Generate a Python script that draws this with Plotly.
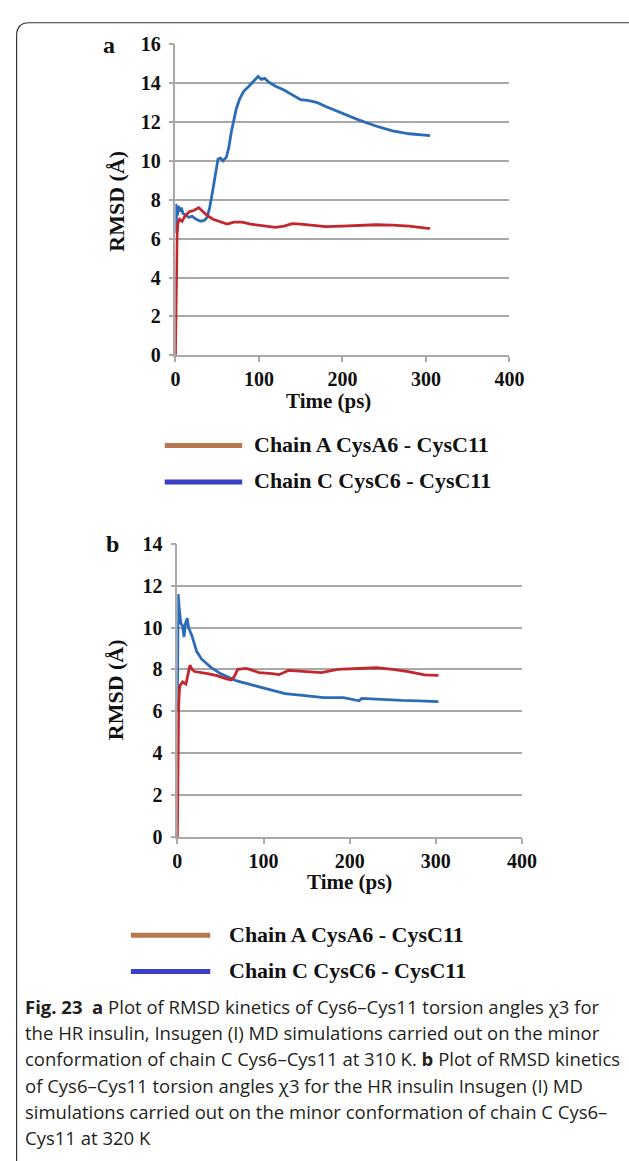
import plotly.graph_objects as go

W, H = 629, 1161

# ---------------- data ----------------
# Panel a (310 K)
a_red_t = [0, 0.5, 1, 1.5, 2, 3, 5, 8, 12, 17, 22, 28, 33, 38, 45, 55, 62, 70, 80, 90, 100, 110,
           120, 130, 140, 150, 160, 180, 200, 220, 240, 260, 280, 300, 305]
a_red_v = [0, 2.5, 4.0, 5.4, 6.2, 6.8, 7.0, 6.9, 7.2, 7.4, 7.45, 7.6, 7.4, 7.2, 7.0, 6.85, 6.75, 6.85,
           6.85, 6.75, 6.7, 6.62, 6.58, 6.65, 6.78, 6.75, 6.7, 6.62, 6.65, 6.7, 6.72, 6.7, 6.65, 6.55, 6.53]

a_blue_t = [0, 0.5, 1, 1.5, 2.5, 3.5, 5, 7, 9, 12, 16, 20, 25, 30, 35, 38, 41, 44, 47, 49, 51, 54, 57,
            61, 64, 67, 70, 73, 77, 82, 88, 94, 99, 103, 107, 112, 120, 130, 140, 150, 160, 170, 180,
            200, 220, 240, 260, 280, 295, 305]
a_blue_v = [6.5, 7.8, 6.3, 7.7, 7.2, 7.7, 7.4, 7.6, 7.3, 7.2, 7.1, 7.15, 7.0, 6.9, 6.95, 7.1, 7.6, 8.3,
            9.0, 9.6, 10.1, 10.15, 10.0, 10.2, 10.7, 11.5, 12.1, 12.7, 13.2, 13.6, 13.85, 14.1, 14.35,
            14.2, 14.25, 14.05, 13.85, 13.65, 13.4, 13.15, 13.1, 13.0, 12.8, 12.45, 12.1, 11.8, 11.55,
            11.4, 11.35, 11.3]

# Panel b (320 K)
b_red_t = [0, 0.5, 1, 1.5, 2.7, 6, 10, 12, 14.6, 17, 20, 35, 46, 57, 63, 66, 70, 80, 95, 110, 118,
           129, 148, 167, 186, 212, 231, 250, 268, 287, 303]
b_red_v = [0, 3.0, 5.5, 6.3, 7.2, 7.4, 7.3, 7.7, 8.2, 8.0, 7.9, 7.8, 7.7, 7.55, 7.5, 7.65, 8.0, 8.05,
           7.85, 7.8, 7.75, 7.95, 7.9, 7.85, 8.0, 8.05, 8.08, 8.0, 7.9, 7.74, 7.72]

b_blue_t = [0, 0.5, 1, 2, 4, 6, 7.7, 9.5, 11.5, 13, 17, 22.5, 28, 39, 50, 69, 88, 110, 125, 148, 170,
            193, 211, 214, 238, 260, 280, 303]
b_blue_v = [6.0, 10.5, 11.6, 11.0, 10.2, 10.1, 9.55, 10.2, 10.45, 10.0, 9.6, 8.85, 8.5, 8.1, 7.8, 7.45,
            7.25, 7.0, 6.85, 6.75, 6.65, 6.65, 6.5, 6.62, 6.55, 6.52, 6.5, 6.46]

x_ticks = [0, 100, 200, 300, 400]
a_y_ticks = [0, 2, 4, 6, 8, 10, 12, 14, 16]
b_y_ticks = [0, 2, 4, 6, 8, 10, 12, 14]

series_names = ["Chain A CysA6 - CysC11", "Chain C CysC6 - CysC11"]
caption_lines = [
    "<b>Fig. 23  a</b> Plot of RMSD kinetics of Cys6–Cys11 torsion angles χ3 for",
    "the HR insulin, Insugen (I) MD simulations carried out on the minor",
    "conformation of chain C Cys6–Cys11 at 310 K. <b>b</b> Plot of RMSD kinetics",
    "of Cys6–Cys11 torsion angles χ3 for the HR insulin Insugen (I) MD",
    "simulations carried out on the minor conformation of chain C Cys6–",
    "Cys11 at 320 K",
]

RED = "#C1272D"
BLUE = "#2C6CB7"
LEG_RED = "#B9774F"
LEG_BLUE = "#3A40C8"
GRID = "#A8A8A8"
SERIF = "Liberation Serif, Times New Roman, serif"
SANS = "Open Sans, Noto Sans, sans-serif"


def px(x):
    return x / W


def py(y):
    return 1 - y / H


fig = go.Figure()
fig.add_trace(go.Scatter(x=a_blue_t, y=a_blue_v, mode="lines", line=dict(color=BLUE, width=2.8),
                         xaxis="x", yaxis="y", showlegend=False))
fig.add_trace(go.Scatter(x=a_red_t, y=a_red_v, mode="lines", line=dict(color=RED, width=2.8),
                         xaxis="x", yaxis="y", showlegend=False))
fig.add_trace(go.Scatter(x=b_blue_t, y=b_blue_v, mode="lines", line=dict(color=BLUE, width=2.8),
                         xaxis="x2", yaxis="y2", showlegend=False))
fig.add_trace(go.Scatter(x=b_red_t, y=b_red_v, mode="lines", line=dict(color=RED, width=2.8),
                         xaxis="x2", yaxis="y2", showlegend=False))

tickfont = dict(family=SERIF, size=20, color="#111111", weight="bold")


def xax(domain, anchor):
    return dict(domain=domain, anchor=anchor, range=[0, 400], tickvals=x_ticks, showgrid=False,
                zeroline=False, showline=True, linecolor=GRID, linewidth=1.5, ticks="outside",
                ticklen=5, tickcolor=GRID, tickwidth=1.5, tickfont=tickfont, fixedrange=True)


def yax(domain, anchor, rng, tv):
    return dict(domain=domain, anchor=anchor, range=rng, tickvals=tv, showgrid=True, gridcolor=GRID,
                gridwidth=1.8, zeroline=False, showline=True, linecolor=GRID, linewidth=1.5,
                ticks="outside", ticklen=5, tickcolor=GRID, tickwidth=1.5, tickfont=tickfont,
                ticklabelstandoff=4, fixedrange=True)


fig.update_layout(
    width=W, height=H, margin=dict(l=0, r=0, t=0, b=0),
    paper_bgcolor="white", plot_bgcolor="white", showlegend=False,
    xaxis=xax([px(176), px(521)], "y"),
    yaxis=yax([py(351), py(34)], "x", [0, 16], a_y_ticks),
    xaxis2=xax([px(178), px(534)], "y2"),
    yaxis2=yax([py(842), py(543)], "x2", [0, 14], b_y_ticks),
)

ann = []
shapes = []


def text(x, y, s, size, family=SERIF, xanchor="center", yanchor="middle", angle=0, color="#111111"):
    ann.append(dict(x=px(x), y=py(y), xref="paper", yref="paper", text=s, showarrow=False,
                    xanchor=xanchor, yanchor=yanchor, textangle=angle,
                    font=dict(family=family, size=size, color=color)))


# panel letters
text(107, 35, "<b>a</b>", 24)
text(111, 543, "<b>b</b>", 24)
# axis titles
text(115, 194, "<b>RMSD (Å)</b>", 22, angle=-90)
text(115, 692, "<b>RMSD (Å)</b>", 22, angle=-90)
text(334, 398, "<b>Time (ps)</b>", 21)
text(356, 888, "<b>Time (ps)</b>", 21)

# legends
for (lx0, lx1, tx, ys) in [(165, 245, 255, (442, 479)), (130, 212, 229, (941, 978))]:
    for name, col, yy in zip(series_names, [LEG_RED, LEG_BLUE], ys):
        shapes.append(dict(type="line", xref="paper", yref="paper", x0=px(lx0), x1=px(lx1),
                           y0=py(yy + 1), y1=py(yy + 1), line=dict(color=col, width=5)))
        text(tx, yy, "<b>" + name + "</b>", 22, xanchor="left")

# caption
for i, line in enumerate(caption_lines):
    text(19, 1015 + i * 26.6, line, 18.5, family=SANS, xanchor="left", color="#231F20")

# frame
r = 13
x0, y0 = 12, 12
path = (f"M {px(x0)} {py(H + 20)} L {px(x0)} {py(y0 + r)} "
        f"Q {px(x0)} {py(y0)} {px(x0 + r)} {py(y0)} L {px(W + 20)} {py(y0)}")
shapes.append(dict(type="path", xref="paper", yref="paper", path=path,
                   line=dict(color="#333333", width=1.2)))

fig.update_layout(annotations=ann, shapes=shapes)
fig.write_html("out.html")
